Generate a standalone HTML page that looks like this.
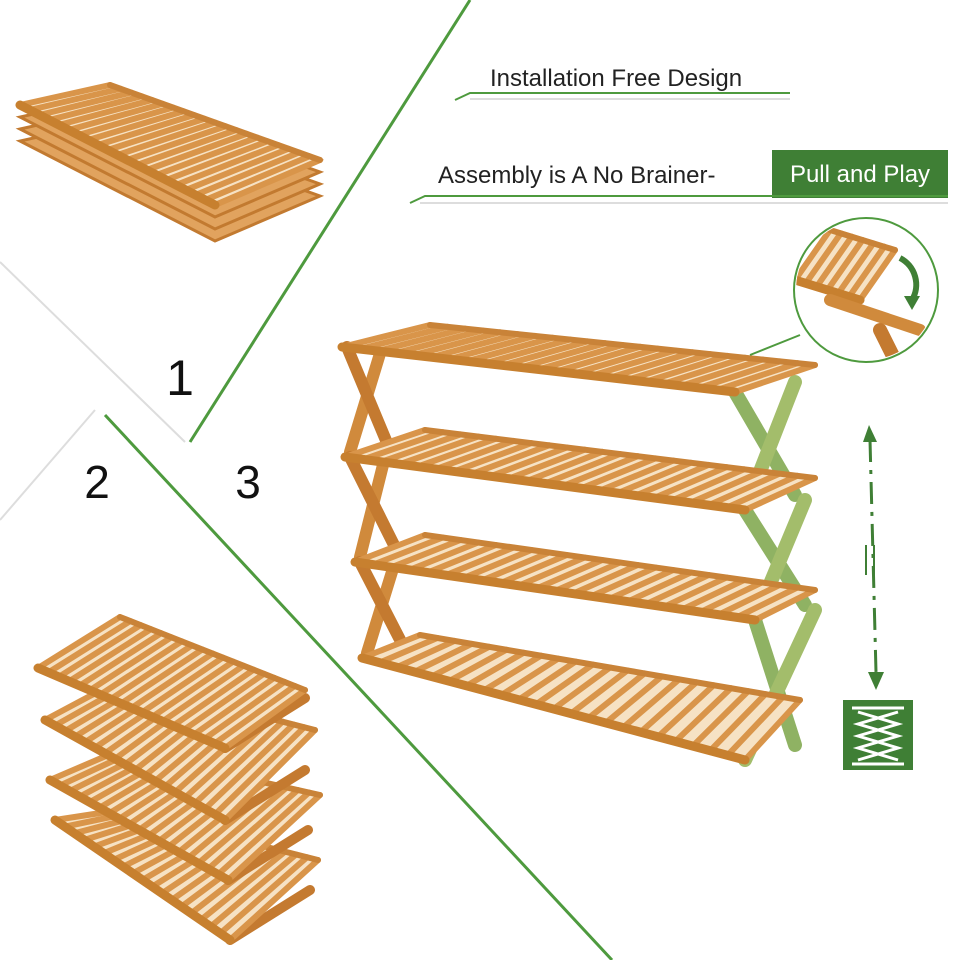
<!DOCTYPE html>
<html><head><meta charset="utf-8"><style>
html,body{margin:0;padding:0;background:#fff;width:960px;height:960px;overflow:hidden}
svg{display:block}
text{font-family:"Liberation Sans",sans-serif}
</style></head><body>
<svg id="s" width="960" height="960" viewBox="0 0 960 960" xmlns="http://www.w3.org/2000/svg">
<rect width="960" height="960" fill="#fff"/>
<!-- divider lines -->
<line x1="470" y1="0" x2="190" y2="442" stroke="#4e9a3e" stroke-width="3"/>
<line x1="105" y1="415" x2="612" y2="960" stroke="#4e9a3e" stroke-width="3"/>
<line x1="0" y1="262" x2="185" y2="442" stroke="#ddd" stroke-width="2"/>
<line x1="95" y1="410" x2="0" y2="520" stroke="#ddd" stroke-width="2"/>
<!-- texts -->
<text x="490" y="86" font-size="24" fill="#222">Installation Free Design</text>
<polyline points="455,100 470,93 790,93" fill="none" stroke="#4e9a3e" stroke-width="2"/>
<line x1="470" y1="99" x2="790" y2="99" stroke="#bbb" stroke-width="1"/>
<text x="438" y="183" font-size="24" fill="#222">Assembly is A No Brainer-</text>
<rect x="772" y="150" width="176" height="48" fill="#3f7f35"/>
<text x="860" y="182" font-size="24" fill="#fff" text-anchor="middle">Pull and Play</text>
<polyline points="410,203 425,196 948,196" fill="none" stroke="#4e9a3e" stroke-width="2"/>
<line x1="420" y1="203" x2="948" y2="203" stroke="#bbb"/>
<text x="180" y="395" font-size="50" fill="#111" text-anchor="middle">1</text>
<text x="97" y="498" font-size="46" fill="#111" text-anchor="middle">2</text>
<text x="248" y="498" font-size="46" fill="#111" text-anchor="middle">3</text>
<g id="wood"></g>
<!-- zoom circle -->
<circle cx="866" cy="290" r="72" fill="#fff" stroke="#4e9a3e" stroke-width="2"/>
<line x1="750" y1="355" x2="800" y2="335" stroke="#4e9a3e" stroke-width="2"/>
<g id="zc"></g>
<path d="M900 258 A30 30 0 0 1 912 300" fill="none" stroke="#3f7f35" stroke-width="6"/>
<polygon points="904,296 920,296 912,310" fill="#3f7f35"/>
<!-- dashed arrow -->
<line x1="870" y1="440" x2="876" y2="672" stroke="#3f7f35" stroke-width="3" stroke-dasharray="22,8,4,8"/>
<polygon points="863,442 877,442 869,425" fill="#3f7f35"/>
<polygon points="868,672 884,672 876,690" fill="#3f7f35"/>
<line x1="866" y1="545" x2="866" y2="575" stroke="#3f7f35" stroke-width="2"/>
<line x1="874" y1="545" x2="874" y2="575" stroke="#3f7f35" stroke-width="2"/>
<rect x="843" y="700" width="70" height="70" fill="#3f7f35"/>
<polyline points="858,712 898,724 858,736 898,748 858,760" fill="none" stroke="#fff" stroke-width="3"/>
<polyline points="898,712 858,724 898,736 858,748 898,760" fill="none" stroke="#fff" stroke-width="3"/>
<line x1="852" y1="708" x2="904" y2="708" stroke="#fff" stroke-width="3"/>
<line x1="852" y1="764" x2="904" y2="764" stroke="#fff" stroke-width="3"/>
</svg>
<script>
var NS="http://www.w3.org/2000/svg",W=document.getElementById("wood");
function el(t,a,p){var e=document.createElementNS(NS,t);for(var k in a)e.setAttribute(k,a[k]);(p||W).appendChild(e);return e;}
function L(x1,y1,x2,y2,c,w,p){el("line",{x1:x1,y1:y1,x2:x2,y2:y2,stroke:c,"stroke-width":w,"stroke-linecap":"round"},p);}
// shelf: back-left a, front-left b, front-right c, back-right d
function shelf(a,b,c,d,n,p){
 el("polygon",{points:[a,b,c,d].map(q=>q.join(",")).join(" "),fill:"#f6e2c4"},p);
 for(var i=0;i<=n;i++){var t=i/n;
  var x1=a[0]+(d[0]-a[0])*t,y1=a[1]+(d[1]-a[1])*t,x2=b[0]+(c[0]-b[0])*t,y2=b[1]+(c[1]-b[1])*t;
  L(x1,y1,x2,y2,"#d9954a",6,p);}
 L(a[0],a[1],d[0],d[1],"#c98338",6,p);
 L(b[0],b[1],c[0],c[1],"#c7802f",9,p);
}
// big shelf legs
var tiers=[[[430,325],[342,347],[735,392],[815,365]],[[425,430],[345,457],[745,510],[815,478]],[[425,535],[355,562],[755,620],[815,590]],[[420,635],[362,658],[745,760],[800,700]]];
for(var i=0;i<3;i++){var t=tiers[i],u=tiers[i+1];
 L(t[1][0]+40,t[1][1],u[1][0]+5,u[1][1]-5,"#d08a3c",12);
 L(t[1][0]+5,t[1][1],u[1][0]+50,u[1][1]+5,"#c47a30",12);
 L(t[2][0],t[2][1],u[2][0]+50,u[2][1]-15,"#8fb263",14);
 L(t[2][0]+60,t[2][1]-10,u[2][0],u[2][1],"#a3bd6b",14);}
tiers.forEach(t=>shelf(t[0],t[1],t[2],t[3],22));
// flat stack top-left
for(var k=3;k>=0;k--){var o=k*12;
 el("polygon",{points:[[20,105+o],[215,205+o],[320,160+o],[110,85+o]].map(q=>q.join(",")).join(" "),fill:"#e1a35e",stroke:"#c27a30","stroke-width":3});}
shelf([110,85],[20,105],[215,205],[320,160],20);
// folded shelf bottom-left
var f=[[[120,617],[38,668],[225,748],[305,690]],[[120,680],[45,720],[225,820],[315,730]],[[120,750],[50,780],[228,880],[320,795]],[[120,810],[55,820],[230,940],[318,860]]];
for(var i=f.length-1;i>=0;i--){var t=f[i];
 L(t[2][0],t[2][1],t[2][0]+80,t[2][1]-50,"#c47a30",10);shelf(t[0],t[1],t[2],t[3],18);}
// zoom circle content
var Z=document.getElementById("zc");
var cp=el("clipPath",{id:"cc"},document.getElementById("s"));el("circle",{cx:866,cy:290,r:70},cp);
Z.setAttribute("clip-path","url(#cc)");
shelf([830,230],[795,280],[860,300],[895,250],6,Z);
L(830,300,920,330,"#d08a3c",12,Z);L(880,330,900,370,"#c47a30",14,Z);
</script>
</body></html>
